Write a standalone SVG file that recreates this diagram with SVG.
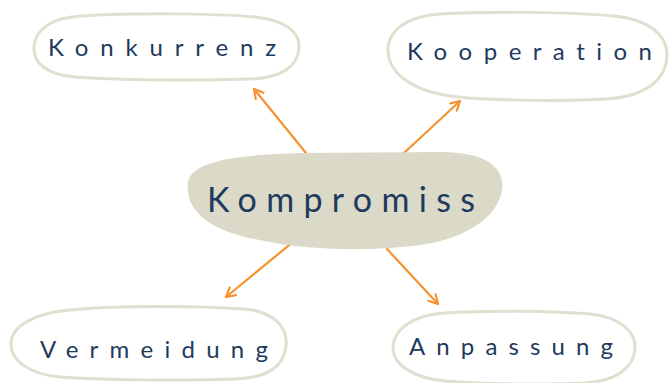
<svg xmlns="http://www.w3.org/2000/svg" width="670" height="383" viewBox="0 0 670 383">
<defs>
<style>
.bubble{fill:#ffffff;stroke:#dfe0d0;stroke-width:3}
.blob{fill:#dbdac8;stroke:none}
.lbl{font-family:"Lato","Noto Sans",sans-serif;fill:#1e3a5c;font-size:24px;font-variant-ligatures:none}
.big{font-size:34px}
.arr{fill:none;stroke:#f5922f;stroke-width:2.2;stroke-linecap:round;marker-end:url(#ah)}
</style>
<marker id="ah" viewBox="0 0 12 12" refX="10" refY="6" markerWidth="12" markerHeight="12" markerUnits="userSpaceOnUse" orient="auto">
<path d="M1,1 L10,6 L1,11" fill="none" stroke="#f5922f" stroke-width="2.2" stroke-linecap="round" stroke-linejoin="round"/>
</marker>
</defs>
<rect width="670" height="383" fill="#ffffff"/>
<g id="connectors">
<line class="arr" x1="306" y1="153" x2="254" y2="89"/>
<line class="arr" x1="404" y1="153" x2="460" y2="101"/>
<line class="arr" x1="293" y1="242" x2="226" y2="297"/>
<line class="arr" x1="387" y1="249" x2="438" y2="304"/>
</g>
<g id="kompromiss">
<path class="blob" d="M188,182 C192,160 240,155 300,153 L440,152 C490,152 505,170 502,190 C498,215 470,238 420,245 C370,252 300,250 260,240 C212,232 184,212 188,182 Z"/>
<text class="lbl big" x="207" y="212" textLength="268" lengthAdjust="spacing">Kompromiss</text>
</g>
<g id="konkurrenz">
<path class="bubble" d="M80,16 C130,13 210,13 255,17 C285,20 300,32 299,48 C298,66 282,78 250,79 C190,81 115,80 75,77 C47,75 33,63 34,47 C35,29 52,18 80,16 Z"/>
<text class="lbl" x="48" y="56" textLength="228" lengthAdjust="spacing">Konkurrenz</text>
</g>
<g id="kooperation">
<path class="bubble" d="M440,14 C490,11 570,12 615,16 C650,20 668,36 667,56 C666,80 645,97 605,99 C550,102 480,100 450,96 C410,90 388,72 388,50 C388,30 408,16 440,14 Z"/>
<text class="lbl" x="407" y="60" textLength="245" lengthAdjust="spacing">Kooperation</text>
</g>
<g id="vermeidung">
<path class="bubble" d="M70,310 C120,305 200,306 245,309 C275,312 288,328 286,346 C284,366 268,378 235,379 C180,381 100,380 60,377 C28,374 11,360 11,344 C11,326 35,313 70,310 Z"/>
<text class="lbl" x="40" y="358" textLength="228" lengthAdjust="spacing">Vermeidung</text>
</g>
<g id="anpassung">
<path class="bubble" d="M445,313 C490,310 555,311 590,314 C620,317 636,332 635,348 C634,368 616,381 585,383 C540,385 480,384 445,381 C412,378 393,364 393,348 C393,330 412,315 445,313 Z"/>
<text class="lbl" x="409" y="355" textLength="204" lengthAdjust="spacing">Anpassung</text>
</g>
</svg>
